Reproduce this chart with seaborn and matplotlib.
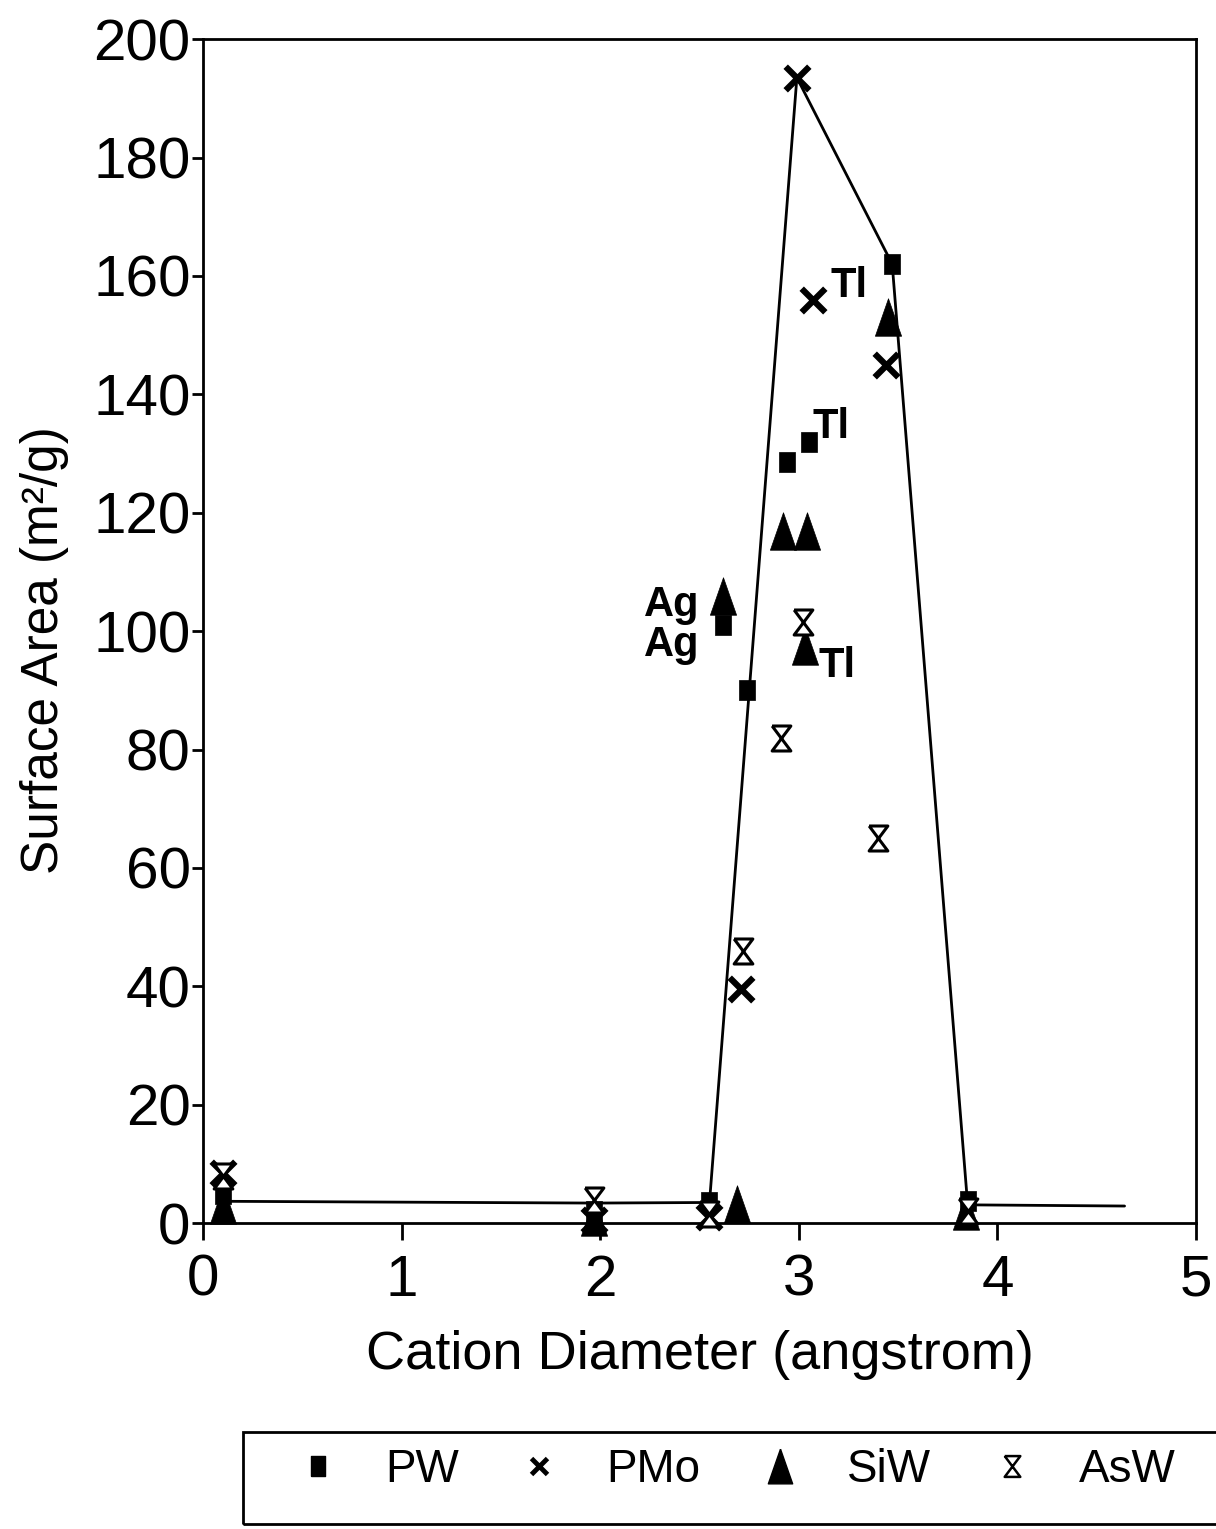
import matplotlib
matplotlib.use("Agg")
import matplotlib.pyplot as plt
import seaborn as sns
from matplotlib.lines import Line2D
from matplotlib.patches import Rectangle

# ---------------- data ----------------
pw_x = [0.10, 1.97, 2.55, 2.62, 2.74, 2.94, 3.05, 3.47, 3.85]
pw_y = [5.0, 2.0, 3.5, 101.0, 90.0, 128.5, 132.0, 162.0, 3.8]

pmo_x = [0.10, 1.97, 2.55, 2.71, 2.99, 3.07, 3.44]
pmo_y = [8.5, 0.5, 1.0, 39.5, 193.5, 156.0, 145.0]

siw_x = [0.10, 1.97, 2.62, 2.69, 2.92, 3.04, 3.03, 3.45, 3.84]
siw_y = [3.0, 1.0, 106.0, 3.3, 117.0, 117.0, 97.5, 153.0, 2.0]

asw_x = [0.10, 1.97, 2.55, 2.72, 2.91, 3.02, 3.40, 3.85]
asw_y = [8.0, 4.0, 1.5, 46.0, 82.0, 101.5, 65.0, 2.0]

guide_x = [0.10, 1.97, 2.55, 2.99, 3.47, 3.85, 4.64]
guide_y = [3.7, 3.4, 3.5, 193.5, 162.0, 3.1, 2.9]

series_labels = ["PW", "PMo", "SiW", "AsW"]
x_ticks = [0, 1, 2, 3, 4, 5]
y_ticks = [0, 20, 40, 60, 80, 100, 120, 140, 160, 180, 200]

# ---------------- style ----------------
sns.set_style("ticks")
plt.rcParams['font.family'] = ['Liberation Sans', 'DejaVu Sans']
for k in ["text.color", "axes.labelcolor", "xtick.color", "ytick.color", "axes.edgecolor"]:
    plt.rcParams[k] = "black"

square = [(-0.75, -1), (0.75, -1), (0.75, 1), (-0.75, 1), (-0.75, -1)]
tri = [(0, 1), (-0.7, -1), (0.7, -1), (0, 1)]
hourglass = [(-0.75, 1), (0.75, 1), (-0.75, -1), (0.75, -1), (-0.75, 1)]

fig = plt.figure(figsize=(12.16, 15.29), dpi=100)
ax = fig.add_axes([0.167, 0.2, 0.8166, 0.7744])

sns.lineplot(x=guide_x, y=guide_y, color="black", linewidth=2.0,
             estimator=None, sort=False, ax=ax, zorder=2)

sns.scatterplot(x=pw_x, y=pw_y, marker=square, s=15**2, color="black",
                edgecolor="black", linewidth=0.5, ax=ax, zorder=4, clip_on=False)
sns.scatterplot(x=pmo_x, y=pmo_y, marker="x", s=17**2, color="black",
                linewidth=4.5, ax=ax, zorder=5, clip_on=False)
sns.scatterplot(x=siw_x, y=siw_y, marker=tri, s=27**2, color="black",
                edgecolor="black", linewidth=0.5, ax=ax, zorder=3, clip_on=False)
sns.scatterplot(x=asw_x, y=asw_y, marker=hourglass, s=18**2, color="white",
                edgecolor="black", linewidth=2.2, ax=ax, zorder=6, clip_on=False)

# annotations
ann = dict(fontsize=30, fontweight="bold", color="black")
ax.text(3.16, 156.4, "Tl", ha="left", va="baseline", **ann)
ax.text(3.07, 132.6, "Tl", ha="left", va="baseline", **ann)
ax.text(3.10, 92.3, "Tl", ha="left", va="baseline", **ann)
ax.text(2.50, 102.5, "Ag", ha="right", va="baseline", **ann)
ax.text(2.50, 95.8, "Ag", ha="right", va="baseline", **ann)

ax.set_xlim(0, 5)
ax.set_ylim(0, 200)
ax.set_xticks(x_ticks)
ax.set_yticks(y_ticks)
ax.set_xticklabels([str(t) for t in x_ticks])
ax.set_yticklabels([str(t) for t in y_ticks])
ax.tick_params(axis="both", labelsize=42, colors="black", width=2, direction="out")
ax.tick_params(axis="x", length=12, pad=10)
ax.tick_params(axis="y", length=8, pad=1)
for sp in ax.spines.values():
    sp.set_visible(True)
    sp.set_linewidth(2.0)
    sp.set_color("black")

ax.set_xlabel("Cation Diameter (angstrom)", fontsize=39, labelpad=16)
ax.set_ylabel("Surface Area (m²/g)", fontsize=37)
ax.yaxis.set_label_coords(-0.135, 0.484)

# legend
handles = [
    Line2D([], [], linestyle="none", marker=square, markersize=14, color="black"),
    Line2D([], [], linestyle="none", marker="x", markersize=12, markeredgewidth=3.5, color="black"),
    Line2D([], [], linestyle="none", marker=tri, markersize=25, color="black"),
    Line2D([], [], linestyle="none", marker=hourglass, markersize=15, markerfacecolor="white",
           markeredgecolor="black", markeredgewidth=1.8),
]
fig.legend(handles, series_labels, ncol=4, loc="center left",
           bbox_to_anchor=(0.243, 0.0386), frameon=False, fontsize=33,
           handlelength=1.0, handletextpad=0.96, columnspacing=1.25, borderpad=0,
           borderaxespad=0)
fig.patches.append(Rectangle((0.2, 0.003), 0.82, 0.0605, transform=fig.transFigure,
                             fill=False, edgecolor="black", linewidth=2.0))

fig.savefig("out.png", dpi=100)
